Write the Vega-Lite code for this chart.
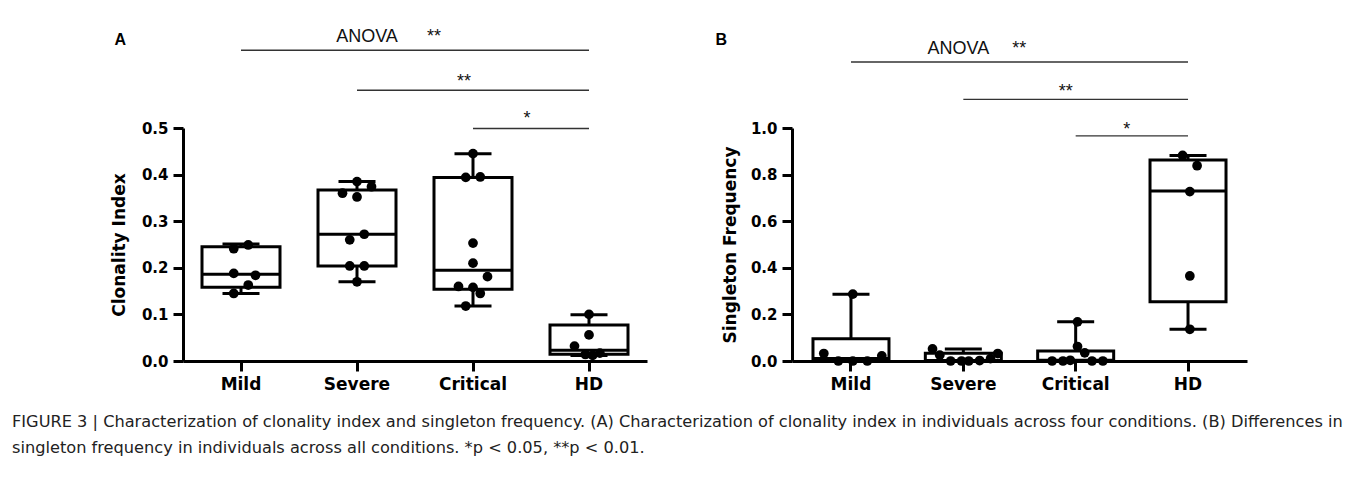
{
  "$schema": "https://vega.github.io/schema/vega-lite/v6.json",
  "padding": {"left": 12, "top": 27, "right": 0, "bottom": 0},
  "background": "white",
  "datasets": {
    "ptsA": [
      {"g": "Mild", "v": 0.249, "s": 2}, {"g": "Mild", "v": 0.241, "s": -2}, {"g": "Mild", "v": 0.188, "s": -2},
      {"g": "Mild", "v": 0.184, "s": 4}, {"g": "Mild", "v": 0.163, "s": 2}, {"g": "Mild", "v": 0.145, "s": -2},
      {"g": "Severe", "v": 0.385, "s": 0}, {"g": "Severe", "v": 0.374, "s": 4}, {"g": "Severe", "v": 0.36, "s": -4},
      {"g": "Severe", "v": 0.352, "s": 0}, {"g": "Severe", "v": 0.272, "s": 2}, {"g": "Severe", "v": 0.26, "s": -2},
      {"g": "Severe", "v": 0.204, "s": -2}, {"g": "Severe", "v": 0.204, "s": 2}, {"g": "Severe", "v": 0.17, "s": 0},
      {"g": "Critical", "v": 0.445, "s": 0}, {"g": "Critical", "v": 0.394, "s": -2}, {"g": "Critical", "v": 0.395, "s": 2},
      {"g": "Critical", "v": 0.253, "s": 0}, {"g": "Critical", "v": 0.21, "s": 0}, {"g": "Critical", "v": 0.181, "s": 4},
      {"g": "Critical", "v": 0.16, "s": -4}, {"g": "Critical", "v": 0.158, "s": 0}, {"g": "Critical", "v": 0.145, "s": 2},
      {"g": "Critical", "v": 0.118, "s": -2},
      {"g": "HD", "v": 0.1, "s": 0}, {"g": "HD", "v": 0.056, "s": 0}, {"g": "HD", "v": 0.032, "s": -4},
      {"g": "HD", "v": 0.017, "s": 3}, {"g": "HD", "v": 0.014, "s": -1}, {"g": "HD", "v": 0.012, "s": 1}
    ],
    "boxA": [
      {"g": "Mild", "q1": 0.158, "med": 0.186, "q3": 0.245, "lo": 0.145, "hi": 0.251},
      {"g": "Severe", "q1": 0.204, "med": 0.272, "q3": 0.367, "lo": 0.17, "hi": 0.385},
      {"g": "Critical", "q1": 0.154, "med": 0.195, "q3": 0.394, "lo": 0.118, "hi": 0.445},
      {"g": "HD", "q1": 0.0144, "med": 0.023, "q3": 0.077, "lo": 0.012, "hi": 0.099}
    ],
    "linesA": [
      {"from": "Mild", "to": "HD", "y": 0.667},
      {"from": "Severe", "to": "HD", "y": 0.581},
      {"from": "Critical", "to": "HD", "y": 0.499}
    ],
    "ptsB": [
      {"g": "Mild", "v": 0.287, "s": 0}, {"g": "Mild", "v": 0.032, "s": -8}, {"g": "Mild", "v": 0, "s": -4},
      {"g": "Mild", "v": 0, "s": 0}, {"g": "Mild", "v": 0, "s": 4}, {"g": "Mild", "v": 0.022, "s": 8},
      {"g": "Severe", "v": 0.052, "s": -9}, {"g": "Severe", "v": 0.025, "s": -7}, {"g": "Severe", "v": 0, "s": -4},
      {"g": "Severe", "v": 0, "s": -1}, {"g": "Severe", "v": 0, "s": 1}, {"g": "Severe", "v": 0.002, "s": 4},
      {"g": "Severe", "v": 0.01, "s": 7}, {"g": "Severe", "v": 0.032, "s": 9},
      {"g": "Critical", "v": 0.168, "s": 0}, {"g": "Critical", "v": 0.062, "s": 0}, {"g": "Critical", "v": 0.035, "s": 2},
      {"g": "Critical", "v": 0, "s": -7}, {"g": "Critical", "v": 0, "s": -4}, {"g": "Critical", "v": 0.003, "s": -2},
      {"g": "Critical", "v": 0, "s": 4}, {"g": "Critical", "v": 0, "s": 7},
      {"g": "HD", "v": 0.882, "s": -2}, {"g": "HD", "v": 0.838, "s": 2}, {"g": "HD", "v": 0.727, "s": 0},
      {"g": "HD", "v": 0.365, "s": 0}, {"g": "HD", "v": 0.136, "s": 0}
    ],
    "boxB": [
      {"g": "Mild", "q1": 0, "med": 0.011, "q3": 0.095, "lo": 0, "hi": 0.287},
      {"g": "Severe", "q1": 0, "med": 0.002, "q3": 0.033, "lo": 0, "hi": 0.052},
      {"g": "Critical", "q1": 0, "med": 0.003, "q3": 0.043, "lo": 0, "hi": 0.168},
      {"g": "HD", "q1": 0.254, "med": 0.73, "q3": 0.863, "lo": 0.136, "hi": 0.882}
    ],
    "linesB": [
      {"from": "Mild", "to": "HD", "y": 1.283},
      {"from": "Severe", "to": "HD", "y": 1.123},
      {"from": "Critical", "to": "HD", "y": 0.966}
    ]
  },
  "title": {
    "text": [
      "FIGURE 3 | Characterization of clonality index and singleton frequency. (A) Characterization of clonality index in individuals across four conditions. (B) Differences in",
      "singleton frequency in individuals across all conditions. *p < 0.05, **p < 0.01."
    ],
    "orient": "bottom",
    "anchor": "start",
    "frame": "group",
    "font": "DejaVu Sans",
    "fontSize": 16.2,
    "fontWeight": "normal",
    "color": "#222222",
    "lineHeight": 26,
    "offset": 22,
    "dx": -171
  },
  "spacing": 68,
  "hconcat": [
    {
      "width": 464,
      "height": 233,
      "title": {"text": "A", "anchor": "start", "frame": "bounds", "font": "Liberation Sans", "fontSize": 16, "fontWeight": "bold", "color": "#000000", "dy": 24, "dx": 4},
      "layer": [
        {
          "data": {"name": "boxA"},
          "mark": {"type": "rule", "strokeWidth": 3, "color": "black"},
          "encoding": {
            "x": {"field": "g", "type": "nominal", "sort": ["Mild", "Severe", "Critical", "HD"],
                  "scale": {"domain": ["Mild", "Severe", "Critical", "HD"], "paddingInner": 0, "paddingOuter": 0},
                  "axis": {"title": null}},
            "y": {"field": "lo", "type": "quantitative", "title": "Clonality Index",
                  "scale": {"domain": [0, 0.5], "nice": false, "zero": true},
                  "axis": {"values": [0, 0.1, 0.2, 0.3, 0.4, 0.5], "format": ".1f", "titlePadding": 13}},
            "y2": {"field": "hi"}
          }
        },
        {
          "data": {"name": "boxA"},
          "mark": {"type": "bar", "fill": "white", "stroke": "black", "strokeWidth": 3, "width": 78},
          "encoding": {
            "x": {"field": "g", "type": "nominal", "sort": ["Mild", "Severe", "Critical", "HD"]},
            "y": {"field": "q1", "type": "quantitative", "title": "Clonality Index"},
            "y2": {"field": "q3"}
          }
        },
        {
          "data": {"name": "boxA"},
          "mark": {"type": "tick", "size": 78, "thickness": 3, "color": "black", "opacity": 1},
          "encoding": {
            "x": {"field": "g", "type": "nominal", "sort": ["Mild", "Severe", "Critical", "HD"]},
            "y": {"field": "med", "type": "quantitative", "title": "Clonality Index"}
          }
        },
        {
          "data": {"name": "boxA"},
          "mark": {"type": "tick", "size": 37, "thickness": 3, "color": "black", "opacity": 1},
          "encoding": {
            "x": {"field": "g", "type": "nominal", "sort": ["Mild", "Severe", "Critical", "HD"]},
            "y": {"field": "lo", "type": "quantitative", "title": "Clonality Index"}
          }
        },
        {
          "data": {"name": "boxA"},
          "mark": {"type": "tick", "size": 37, "thickness": 3, "color": "black", "opacity": 1},
          "encoding": {
            "x": {"field": "g", "type": "nominal", "sort": ["Mild", "Severe", "Critical", "HD"]},
            "y": {"field": "hi", "type": "quantitative", "title": "Clonality Index"}
          }
        },
        {
          "data": {"name": "ptsA"},
          "mark": {"type": "circle", "size": 95, "color": "black", "opacity": 1},
          "encoding": {
            "x": {"field": "g", "type": "nominal", "sort": ["Mild", "Severe", "Critical", "HD"]},
            "xOffset": {"field": "s", "type": "ordinal",
                        "scale": {"domain": [-16, -15, -14, -13, -12, -11, -10, -9, -8, -7, -6, -5, -4, -3, -2, -1, 0, 1, 2, 3, 4, 5, 6, 7, 8, 9, 10, 11, 12, 13, 14, 15, 16], "paddingInner": 0, "paddingOuter": 0}},
            "y": {"field": "v", "type": "quantitative", "title": "Clonality Index"}
          }
        },
        {
          "data": {"name": "linesA"},
          "mark": {"type": "rule", "strokeWidth": 1.4, "color": "#333333"},
          "encoding": {
            "x": {"field": "from", "type": "nominal", "sort": ["Mild", "Severe", "Critical", "HD"]},
            "x2": {"field": "to"},
            "y": {"field": "y", "type": "quantitative", "title": "Clonality Index"}
          }
        },
        {
          "data": {"values": [{"g": "Severe", "y": 0.685, "t": "ANOVA"}]},
          "mark": {"type": "text", "font": "Liberation Sans", "fontSize": 18, "color": "#111111", "align": "center", "baseline": "alphabetic", "dx": 10},
          "encoding": {
            "x": {"field": "g", "type": "nominal", "sort": ["Mild", "Severe", "Critical", "HD"]},
            "y": {"field": "y", "type": "quantitative", "title": "Clonality Index"},
            "text": {"field": "t"}
          }
        },
        {
          "data": {"values": [{"g": "Severe", "y": 0.685, "t": "**"}]},
          "mark": {"type": "text", "font": "Liberation Sans", "fontSize": 18, "color": "#111111", "align": "left", "baseline": "alphabetic", "dx": 70},
          "encoding": {
            "x": {"field": "g", "type": "nominal", "sort": ["Mild", "Severe", "Critical", "HD"]},
            "y": {"field": "y", "type": "quantitative", "title": "Clonality Index"},
            "text": {"field": "t"}
          }
        },
        {
          "data": {"values": [{"g": "Critical", "y": 0.587, "t": "**"}]},
          "mark": {"type": "text", "font": "Liberation Sans", "fontSize": 18, "color": "#111111", "align": "center", "baseline": "alphabetic", "dx": -9},
          "encoding": {
            "x": {"field": "g", "type": "nominal", "sort": ["Mild", "Severe", "Critical", "HD"]},
            "y": {"field": "y", "type": "quantitative", "title": "Clonality Index"},
            "text": {"field": "t"}
          }
        },
        {
          "data": {"values": [{"g": "Critical", "y": 0.508, "t": "*"}]},
          "mark": {"type": "text", "font": "Liberation Sans", "fontSize": 18, "color": "#111111", "align": "center", "baseline": "alphabetic", "dx": 54},
          "encoding": {
            "x": {"field": "g", "type": "nominal", "sort": ["Mild", "Severe", "Critical", "HD"]},
            "y": {"field": "y", "type": "quantitative", "title": "Clonality Index"},
            "text": {"field": "t"}
          }
        }
      ]
    },
    {
      "width": 455,
      "height": 233,
      "title": {"text": "B", "anchor": "start", "frame": "bounds", "font": "Liberation Sans", "fontSize": 16, "fontWeight": "bold", "color": "#000000", "dy": 12, "dx": -6},
      "layer": [
        {
          "data": {"name": "boxB"},
          "mark": {"type": "rule", "strokeWidth": 3, "color": "black"},
          "encoding": {
            "x": {"field": "g", "type": "nominal", "sort": ["Mild", "Severe", "Critical", "HD"],
                  "scale": {"domain": ["Mild", "Severe", "Critical", "HD"], "paddingInner": 0, "paddingOuter": 0.025},
                  "axis": {"title": null}},
            "y": {"field": "lo", "type": "quantitative", "title": "Singleton Frequency",
                  "scale": {"domain": [0, 1], "nice": false, "zero": true},
                  "axis": {"values": [0, 0.2, 0.4, 0.6, 0.8, 1.0], "format": ".1f", "titlePadding": 11}},
            "y2": {"field": "hi"}
          }
        },
        {
          "data": {"name": "boxB"},
          "mark": {"type": "bar", "fill": "white", "stroke": "black", "strokeWidth": 3, "width": 76},
          "encoding": {
            "x": {"field": "g", "type": "nominal", "sort": ["Mild", "Severe", "Critical", "HD"]},
            "y": {"field": "q1", "type": "quantitative", "title": "Singleton Frequency"},
            "y2": {"field": "q3"}
          }
        },
        {
          "data": {"name": "boxB"},
          "mark": {"type": "tick", "size": 76, "thickness": 3, "color": "black", "opacity": 1},
          "encoding": {
            "x": {"field": "g", "type": "nominal", "sort": ["Mild", "Severe", "Critical", "HD"]},
            "y": {"field": "med", "type": "quantitative", "title": "Singleton Frequency"}
          }
        },
        {
          "data": {"name": "boxB"},
          "mark": {"type": "tick", "size": 37, "thickness": 3, "color": "black", "opacity": 1},
          "encoding": {
            "x": {"field": "g", "type": "nominal", "sort": ["Mild", "Severe", "Critical", "HD"]},
            "y": {"field": "lo", "type": "quantitative", "title": "Singleton Frequency"}
          }
        },
        {
          "data": {"name": "boxB"},
          "mark": {"type": "tick", "size": 37, "thickness": 3, "color": "black", "opacity": 1},
          "encoding": {
            "x": {"field": "g", "type": "nominal", "sort": ["Mild", "Severe", "Critical", "HD"]},
            "y": {"field": "hi", "type": "quantitative", "title": "Singleton Frequency"}
          }
        },
        {
          "data": {"name": "ptsB"},
          "mark": {"type": "circle", "size": 95, "color": "black", "opacity": 1},
          "encoding": {
            "x": {"field": "g", "type": "nominal", "sort": ["Mild", "Severe", "Critical", "HD"]},
            "xOffset": {"field": "s", "type": "ordinal",
                        "scale": {"domain": [-16, -15, -14, -13, -12, -11, -10, -9, -8, -7, -6, -5, -4, -3, -2, -1, 0, 1, 2, 3, 4, 5, 6, 7, 8, 9, 10, 11, 12, 13, 14, 15, 16], "paddingInner": 0, "paddingOuter": 0}},
            "y": {"field": "v", "type": "quantitative", "title": "Singleton Frequency"}
          }
        },
        {
          "data": {"name": "linesB"},
          "mark": {"type": "rule", "strokeWidth": 1.4, "color": "#333333"},
          "encoding": {
            "x": {"field": "from", "type": "nominal", "sort": ["Mild", "Severe", "Critical", "HD"]},
            "x2": {"field": "to"},
            "y": {"field": "y", "type": "quantitative", "title": "Singleton Frequency"}
          }
        },
        {
          "data": {"values": [{"g": "Severe", "y": 1.316, "t": "ANOVA"}]},
          "mark": {"type": "text", "font": "Liberation Sans", "fontSize": 18, "color": "#111111", "align": "center", "baseline": "alphabetic", "dx": -5},
          "encoding": {
            "x": {"field": "g", "type": "nominal", "sort": ["Mild", "Severe", "Critical", "HD"]},
            "y": {"field": "y", "type": "quantitative", "title": "Singleton Frequency"},
            "text": {"field": "t"}
          }
        },
        {
          "data": {"values": [{"g": "Severe", "y": 1.316, "t": "**"}]},
          "mark": {"type": "text", "font": "Liberation Sans", "fontSize": 18, "color": "#111111", "align": "left", "baseline": "alphabetic", "dx": 49},
          "encoding": {
            "x": {"field": "g", "type": "nominal", "sort": ["Mild", "Severe", "Critical", "HD"]},
            "y": {"field": "y", "type": "quantitative", "title": "Singleton Frequency"},
            "text": {"field": "t"}
          }
        },
        {
          "data": {"values": [{"g": "Critical", "y": 1.135, "t": "**"}]},
          "mark": {"type": "text", "font": "Liberation Sans", "fontSize": 18, "color": "#111111", "align": "center", "baseline": "alphabetic", "dx": -10},
          "encoding": {
            "x": {"field": "g", "type": "nominal", "sort": ["Mild", "Severe", "Critical", "HD"]},
            "y": {"field": "y", "type": "quantitative", "title": "Singleton Frequency"},
            "text": {"field": "t"}
          }
        },
        {
          "data": {"values": [{"g": "Critical", "y": 0.972, "t": "*"}]},
          "mark": {"type": "text", "font": "Liberation Sans", "fontSize": 18, "color": "#111111", "align": "center", "baseline": "alphabetic", "dx": 51},
          "encoding": {
            "x": {"field": "g", "type": "nominal", "sort": ["Mild", "Severe", "Critical", "HD"]},
            "y": {"field": "y", "type": "quantitative", "title": "Singleton Frequency"},
            "text": {"field": "t"}
          }
        }
      ]
    }
  ],
  "config": {
    "view": {"stroke": null},
    "axis": {
      "domainColor": "#000000", "domainWidth": 3, "tickColor": "#000000", "tickWidth": 3, "tickSize": 10,
      "labelFont": "DejaVu Sans", "labelFontWeight": "bold", "labelColor": "#000000",
      "titleFont": "DejaVu Sans", "titleFontWeight": "bold", "titleColor": "#000000",
      "grid": false, "labelPadding": 5
    },
    "axisX": {"labelFontSize": 17, "labelAngle": 0},
    "axisY": {"labelFontSize": 15, "titleFontSize": 17}
  }
}
